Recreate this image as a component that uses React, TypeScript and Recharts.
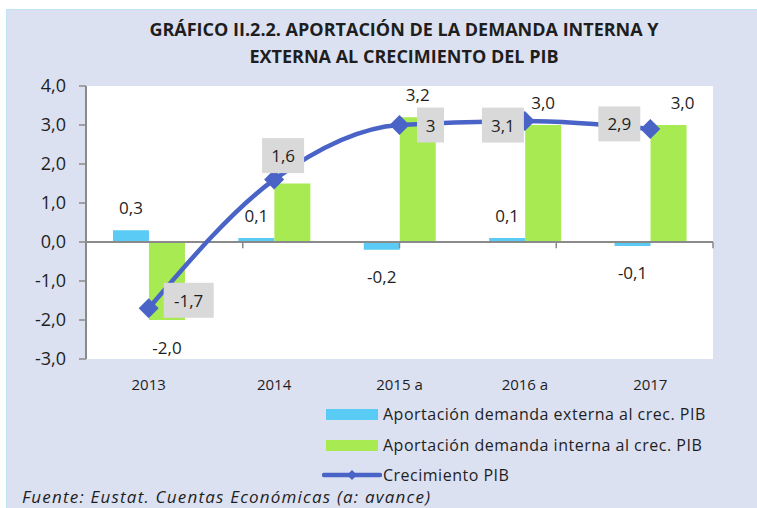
import React from "react";
import {
  ComposedChart,
  Bar,
  Line,
  XAxis,
  YAxis,
  CartesianGrid,
  ReferenceLine,
  LabelList,
} from "recharts";

const categories = ["2013", "2014", "2015 a", "2016 a", "2017"];
const externa = [0.3, 0.1, -0.2, 0.1, -0.1];
const interna = [-2.0, 1.5, 3.2, 3.0, 3.0];
const crecimiento = [-1.7, 1.6, 3.0, 3.1, 2.9];
const yTicks = [-3, -2, -1, 0, 1, 2, 3, 4];
const boundaryTicks = [1, 2, 3, 4, 5];

// label placement (box centre offset from the point, px)
const lineLabelOffsets = [
  { dx: 40, dy: -8 },
  { dx: 9, dy: -24 },
  { dx: 31, dy: 0 },
  { dx: -22, dy: 4 },
  { dx: -31, dy: -5 },
];

const data = categories.map((c, i) => ({
  cat: c,
  ext: externa[i],
  int: interna[i],
  pib: crecimiento[i],
}));

const FONT = "'Open Sans', 'Noto Sans', sans-serif";
const C_EXT = "#5ACBF4";
const C_INT = "#A8EA52";
const C_LINE = "#4A63C7";
const C_AXIS = "#8A8A8A";
const C_TEXT = "#1E1E1E";

const fmt1 = (v: number) => v.toFixed(1).replace(".", ",");
const fmtLine = (v: number) => String(v).replace(".", ",");

const barLabel = (skip: number[], dxs: Record<number, number>) => (props: any) => {
  const { x, y, width, height, value, index } = props;
  if (skip.includes(index)) return null;
  const top = Math.min(y, y + height);
  const bottom = Math.max(y, y + height);
  const cx = x + width / 2 + (dxs[index] || 0);
  const cy = value >= 0 ? top - 23 : bottom + 27;
  return (
    <text
      x={cx}
      y={cy}
      textAnchor="middle"
      dominantBaseline="central"
      fontFamily={FONT}
      fontSize={17}
      fill={C_TEXT}
    >
      {fmt1(value)}
    </text>
  );
};

const lineLabel = (props: any) => {
  const { x, y, value, index } = props;
  const off = lineLabelOffsets[index] || { dx: 0, dy: 0 };
  const txt = fmtLine(value);
  const w = txt.length === 1 ? 27 : txt.length === 3 ? 42 : 50;
  const h = 35;
  const cx = x + off.dx;
  const cy = y + off.dy;
  return (
    <g>
      <rect x={cx - w / 2} y={cy - h / 2} width={w} height={h} fill="#D9D9D9" />
      <text
        x={cx}
        y={cy}
        textAnchor="middle"
        dominantBaseline="central"
        fontFamily={FONT}
        fontSize={17}
        fill={C_TEXT}
      >
        {txt}
      </text>
    </g>
  );
};

const Diamond = (props: any) => {
  const { cx, cy } = props;
  if (cx == null || cy == null) return null;
  const r = 10;
  return (
    <path
      d={`M${cx},${cy - r} L${cx + r},${cy} L${cx},${cy + r} L${cx - r},${cy} Z`}
      fill={C_LINE}
    />
  );
};

export default function App() {
  return (
    <div
      style={{
        position: "absolute",
        left: 0,
        top: 0,
        width: 757,
        height: 508,
        background: "#fff",
        overflow: "hidden",
        fontFamily: FONT,
      }}
    >
      <div
        style={{
          position: "absolute",
          left: 6,
          top: 9,
          width: 751,
          height: 499,
          background: "#DCE1F2",
          borderTop: "1px solid #BFE4F7",
          borderLeft: "1px solid #BFE4F7",
        }}
      />
      <div
        style={{
          position: "absolute",
          left: 0,
          width: 808,
          top: 16,
          textAlign: "center",
          fontWeight: 700,
          fontSize: 18,
          lineHeight: "27px",
          color: C_TEXT,
        }}
      >
        GRÁFICO II.2.2. APORTACIÓN DE LA DEMANDA INTERNA Y
        <br />
        EXTERNA AL CRECIMIENTO DEL PIB
      </div>
      <div style={{ position: "absolute", left: 0, top: 0 }}>
        <ComposedChart
          width={757}
          height={508}
          data={data}
          margin={{ top: 86, right: 44, bottom: 119, left: 26 }}
          barCategoryGap="21.5%"
          barGap={0}
        >
          <CartesianGrid horizontal={false} vertical={false} fill="#FFFFFF" />
          <XAxis
            dataKey="cat"
            axisLine={false}
            tickLine={false}
            height={30}
            tickMargin={14}
            tick={{ fontFamily: FONT, fontSize: 15, fill: C_TEXT }}
            interval={0}
          />
          <XAxis xAxisId="n" type="number" domain={[0, 5]} hide allowDataOverflow />
          <YAxis
            domain={[-3, 4]}
            ticks={yTicks}
            width={60}
            interval={0}
            tickFormatter={fmt1}
            axisLine={{ stroke: C_AXIS, strokeWidth: 2 }}
            tickLine={{ stroke: C_AXIS, strokeWidth: 1.5 }}
            tickSize={7}
            tickMargin={13}
            tick={{ fontFamily: FONT, fontSize: 18, fill: C_TEXT }}
            allowDataOverflow
          />
          <Bar dataKey="ext" fill={C_EXT} isAnimationActive={false}>
            <LabelList dataKey="ext" content={barLabel([], {})} />
          </Bar>
          <Bar dataKey="int" fill={C_INT} isAnimationActive={false}>
            <LabelList dataKey="int" content={barLabel([1], { 4: 14 })} />
          </Bar>
          <ReferenceLine y={0} stroke={C_AXIS} strokeWidth={2} ifOverflow="extendDomain" />
          {boundaryTicks.map((b) => (
            <ReferenceLine
              key={b}
              xAxisId="n"
              segment={[
                { x: b, y: 0 },
                { x: b, y: -0.16 },
              ]}
              stroke={C_AXIS}
              strokeWidth={1.5}
            />
          ))}
          <Line
            dataKey="pib"
            type="monotone"
            stroke={C_LINE}
            strokeWidth={4.5}
            dot={<Diamond />}
            activeDot={false}
            isAnimationActive={false}
          >
            <LabelList dataKey="pib" content={lineLabel} />
          </Line>
        </ComposedChart>
      </div>
      {/* legend */}
      <div style={{ position: "absolute", left: 0, top: 0 }}>
        {[
          { label: "Aportación demanda externa al crec. PIB", kind: "bar", color: C_EXT, y: 414 },
          { label: "Aportación demanda interna al crec. PIB", kind: "bar", color: C_INT, y: 445 },
          { label: "Crecimiento PIB", kind: "line", color: C_LINE, y: 475 },
        ].map((it) => (
          <div key={it.label}>
            {it.kind === "bar" ? (
              <div
                style={{
                  position: "absolute",
                  left: 326,
                  top: it.y - 5.5,
                  width: 52,
                  height: 11,
                  background: it.color,
                }}
              />
            ) : (
              <svg
                style={{ position: "absolute", left: 322, top: it.y - 8 }}
                width={60}
                height={16}
              >
                <line x1={2} y1={8} x2={58} y2={8} stroke={it.color} strokeWidth={4.5} strokeLinecap="round" />
                <path d="M30,3 L35,8 L30,13 L25,8 Z" fill={it.color} />
              </svg>
            )}
            <div
              style={{
                position: "absolute",
                left: 383,
                top: it.y - 12,
                height: 24,
                lineHeight: "24px",
                fontSize: 16,
                letterSpacing: 0.5,
                color: C_TEXT,
                whiteSpace: "nowrap",
              }}
            >
              {it.label}
            </div>
          </div>
        ))}
      </div>
      <div
        style={{
          position: "absolute",
          left: 22,
          top: 485,
          lineHeight: "24px",
          fontSize: 17,
          letterSpacing: 1.2,
          fontStyle: "italic",
          color: C_TEXT,
          whiteSpace: "nowrap",
        }}
      >
        Fuente: Eustat. Cuentas Económicas (<i>a: avance</i>)
      </div>
    </div>
  );
}
